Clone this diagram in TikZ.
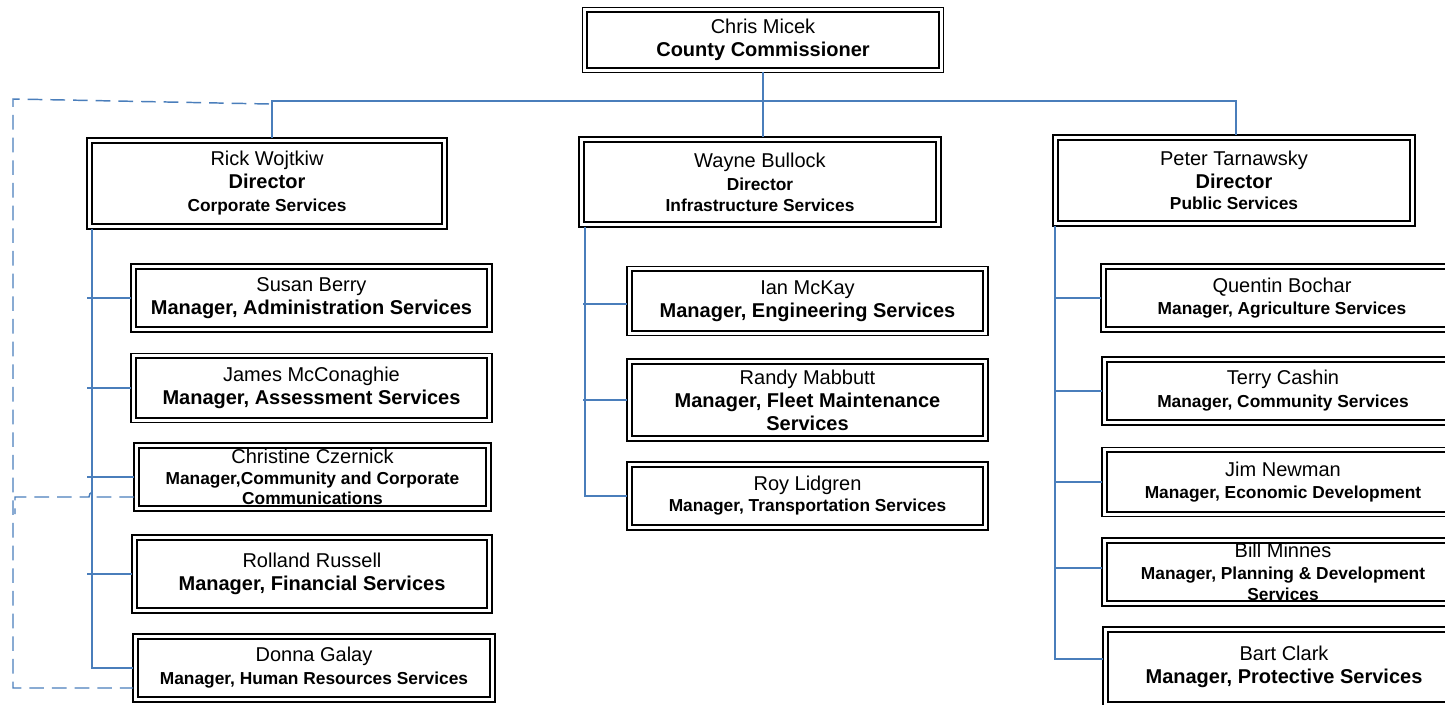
\documentclass[tikz,border=0pt]{standalone}
\usepackage{fontspec}
\setmainfont{Liberation Sans}
\usetikzlibrary{calc}
\definecolor{conn}{RGB}{74,126,187}
\newcommand\smb{\fontsize{13}{15.75}\selectfont\bfseries}
\tikzset{
  box/.style={draw, line width=0.9pt, inner sep=0pt, outer sep=0pt, align=center,
    font=\fontsize{15}{17.25}\selectfont},
  sz/.style 2 args={minimum width=#1*0.75pt, minimum height=#2*0.75pt},
  link/.style={conn, line width=1.1pt},
  dlink/.style={conn, line width=1.1pt, dash pattern=on 11pt off 6pt},
  innerline/.style={line width=1.5pt}}
\begin{document}
\begin{tikzpicture}[x=0.75pt,y=-0.75pt]
\useasboundingbox (0,0) rectangle (1445,705);
\clip (0,0) rectangle (1445,705);

% boxes
\node[box, sz={361}{65}] (top) at (763,40) {Chris Micek\\{\bfseries County Commissioner}};
\node[box, sz={360}{91}] (rick) at (267,183.5) {Rick Wojtkiw\\{\bfseries Director}\\{\smb Corporate Services}};
\node[box, sz={362}{90}] (wayne) at (760,182) {Wayne Bullock\\{\smb Director}\\[-1.5pt]{\smb Infrastructure Services}};
\node[box, sz={362}{91}] (peter) at (1234,180.5) {Peter Tarnawsky\\{\bfseries Director}\\[-1.5pt]{\smb Public Services}};

\node[box, sz={361}{68}] (susan) at (311.5,298) {Susan Berry\\{\bfseries Manager, Administration Services}};
\node[box, sz={361}{69}] (james) at (311.5,388) {James McConaghie\\{\bfseries Manager, Assessment Services}};
\node[box, sz={357}{68}] (christine) at (312.5,477) {Christine Czernick\\[-1.5pt]{\smb Manager,Community and Corporate}\\[-2.5pt]{\smb Communications}};
\node[box, sz={360}{78}] (rolland) at (312,574) {Rolland Russell\\{\bfseries Manager, Financial Services}};
\node[box, sz={362}{68}] (donna) at (314,668) {Donna Galay\\{\smb Manager, Human Resources Services}};

\node[box, sz={361}{69}] (ian) at (807.5,301) {Ian McKay\\{\bfseries Manager, Engineering Services}};
\node[box, sz={361}{82}] (randy) at (807.5,400) {Randy Mabbutt\\{\bfseries Manager, Fleet Maintenance}\\{\bfseries Services}};
\node[box, sz={361}{68}] (roy) at (807.5,496) {Roy Lidgren\\[-1.5pt]{\smb Manager, Transportation Services}};

\node[box, sz={362}{68}] (quentin) at (1282,298) {Quentin Bochar\\[-1pt]{\smb Manager, Agriculture Services}};
\node[box, sz={362}{68}] (terry) at (1283,391) {Terry Cashin\\{\smb Manager, Community Services}};
\node[box, sz={362}{69}] (jim) at (1283,482) {Jim Newman\\[-1pt]{\smb Manager, Economic Development}};
\node[box, sz={362}{68}] (bill) at (1283,572) {Bill Minnes\\[-1pt]{\smb Manager, Planning \& Development}\\[-1.5pt]{\smb Services}};
\node[box, sz={362}{80}] (bart) at (1284,667) {Bart Clark\\{\bfseries Manager, Protective Services}};

% inner borders
\foreach \n in {top,rick,wayne,peter,susan,james,christine,rolland,donna,ian,randy,roy,quentin,terry,jim,bill,bart}
  \draw[innerline] ([shift={(3.4pt,-3.4pt)}]\n.north west) rectangle ([shift={(-3.4pt,3.4pt)}]\n.south east);

% top level connectors
\coordinate (busL) at (272,101);
\coordinate (busR) at (1236,101);
\draw[link] (top.south) -- (top.south |- wayne.north);
\draw[link] (busL |- rick.north) -- (busL) -- (busR) -- (busR |- peter.north);

% left branch
\coordinate (sL) at ($(rick.south west)+(5,0)$);
\coordinate (tL) at ($(sL)+(-5,0)$);
\draw[link] (sL) |- (donna.west);
\foreach \n in {susan,james,christine,rolland}
  \draw[link] (tL |- \n.west) -- (\n.west);

% middle branch
\coordinate (sM) at ($(wayne.south west)+(6,0)$);
\coordinate (tM) at ($(sM)+(-2,0)$);
\draw[link] (sM) |- (roy.west);
\draw[link] (tM |- 0,304) -- ($(ian.west)+(0,3)$);
\draw[link] (tM |- randy.west) -- (randy.west);

% right branch
\coordinate (sR) at ($(peter.south west)+(2,0)$);
\draw[link] (sR) |- ($(bart.west)+(0,-8)$);
\foreach \n in {quentin,terry,jim}
  \draw[link] (sR |- \n.west) -- (\n.west);
\draw[link] (sR |- 0,568) -- ($(bill.west)+(0,-4)$);

% dashed links
\draw[dlink] ($(busL)+(-3,3)$) -- (13,99) -- (13,688) -- ($(donna.south west)+(0,-14)$);
\draw[dlink] ($(christine.south west)+(0,-14)$) -- (95,497) .. controls (95,491) and (89,491) .. (89,497) -- (15,497) -- (15,514);
\end{tikzpicture}
\end{document}
